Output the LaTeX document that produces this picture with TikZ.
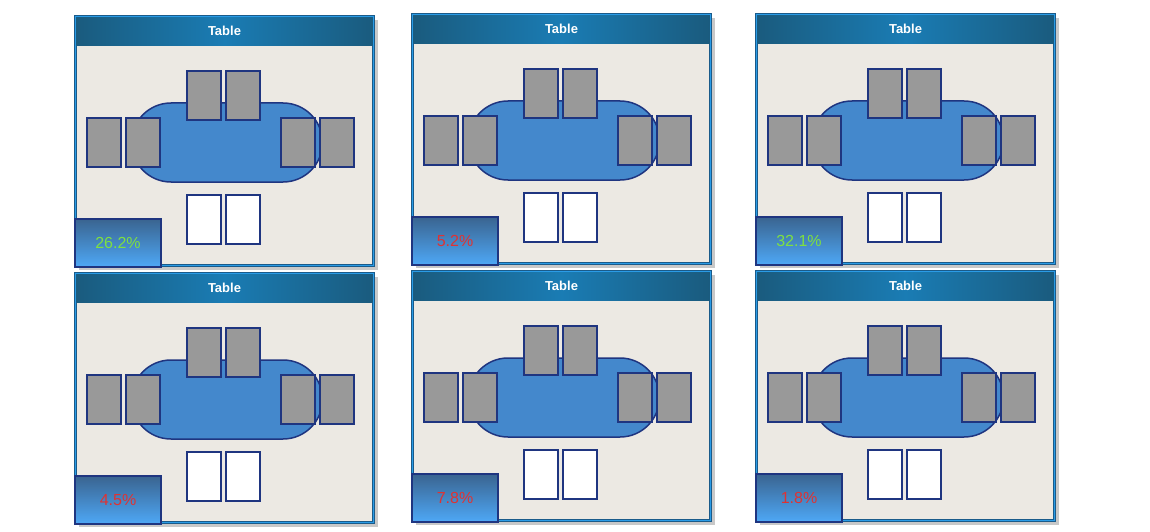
\documentclass[tikz,border=0pt]{standalone}
\usepackage{fontspec}
\setmainfont{Liberation Sans}
\definecolor{hdark}{HTML}{1A5B7E}
\definecolor{hmid}{HTML}{1A7CB4}
\definecolor{frameblue}{HTML}{2A9BE6}
\definecolor{framedark}{HTML}{1A5B8A}
\definecolor{panelbg}{HTML}{ECE9E3}
\definecolor{navy}{HTML}{1F3580}
\definecolor{tableblue}{HTML}{4488CC}
\definecolor{chairgray}{HTML}{999999}
\definecolor{boxtop}{HTML}{3A6490}
\definecolor{boxbot}{HTML}{4EA8F6}
\definecolor{pgreen}{HTML}{7FE040}
\definecolor{pred}{HTML}{E03232}
\definecolor{shadowgray}{HTML}{C8C8C8}
\tikzset{
  every node/.style={inner sep=0pt, outer sep=0pt},
  shadowbox/.style={anchor=north west, fill=shadowgray, minimum width=299pt, minimum height=250pt},
  framebox/.style={anchor=north west, fill=panelbg, draw=framedark, double=frameblue, double distance=1.2pt, line width=0.6pt, minimum width=298pt, minimum height=249pt},
  headbox/.style={anchor=north west, minimum width=296pt, minimum height=28pt, left color=hdark, right color=hdark, middle color=hmid, text=white, font=\fontsize{13}{15}\selectfont\bfseries},
  stadium/.style={anchor=north west, fill=tableblue, draw=navy, line width=1.5pt, minimum width=191pt, minimum height=79pt, rounded corners=39.5pt},
  chair/.style={anchor=north west, fill=chairgray, draw=navy, line width=1.5pt, minimum width=34pt, minimum height=49pt},
  freechair/.style={chair, fill=white},
  pctbox/.style={anchor=north west, draw=navy, line width=2pt, top color=boxtop, bottom color=boxbot, minimum width=86pt, minimum height=48pt, font=\fontsize{16}{18}\selectfont},
}
\begin{document}
\begin{tikzpicture}[x=1pt,y=-1pt]
\useasboundingbox[fill=white] (0,0) rectangle (1150,532);
\foreach \i/\px/\py/\pct/\pc in {1/75/16/26.2\%/pgreen, 2/412/14/5.2\%/pred, 3/756/14/32.1\%/pgreen, 4/75/273/4.5\%/pred, 5/412/271/7.8\%/pred, 6/756/271/1.8\%/pred}{
  \begin{scope}[shift={(\px,\py)}]
    \node[shadowbox] (shadow\i) at (4,4) {};
    \node[framebox] (frame\i) at (0.5,0.5) {};
    \node[headbox] (head\i) at (1.5,1.2) {Table};
    \node[stadium] (table\i) at (56.5,87) {};
    \node[chair] (ct1\i) at (112,55) {};
    \node[chair] (ct2\i) at (151,55) {};
    \node[chair] (cl1\i) at (12,102) {};
    \node[chair] (cl2\i) at (51,102) {};
    \node[chair] (cr1\i) at (206,102) {};
    \node[chair] (cr2\i) at (245,102) {};
    \node[freechair] (cb1\i) at (112,179) {};
    \node[freechair] (cb2\i) at (151,179) {};
    \node[pctbox, text=\pc] (pct\i) at (0,203) {\pct};
  \end{scope}
}
\end{tikzpicture}
\end{document}
